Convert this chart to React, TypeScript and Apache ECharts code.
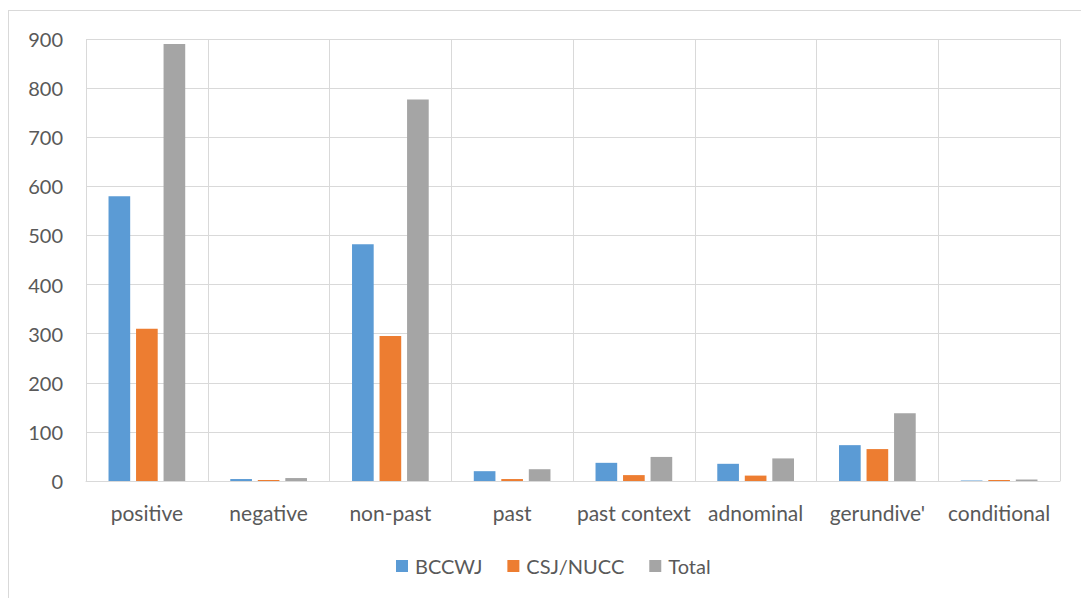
import React, { useEffect, useRef } from "react";
import * as echarts from "echarts";

const categories = [
  "positive",
  "negative",
  "non-past",
  "past",
  "past context",
  "adnominal",
  "gerundive'",
  "conditional",
];
const bccwj = [580, 4, 482, 20, 37, 35, 73, 1];
const csjNucc = [310, 2, 295, 4, 12, 11, 65, 2];
const total = [890, 6, 777, 24, 49, 46, 138, 3];

const FONT = "Lato, 'Open Sans', sans-serif";
const TEXT = "#595959";
const GRID = "#d9d9d9";

export default function App() {
  const ref = useRef<HTMLDivElement>(null);

  useEffect(() => {
    if (!ref.current) return;
    const chart = echarts.init(ref.current, undefined, { renderer: "svg" });
    const bar = (name: string, data: number[], color: string) => ({
      name,
      type: "bar",
      data,
      barGap: "27%",
      barCategoryGap: "37%",
      itemStyle: { color },
    });
    chart.setOption({
      animation: false,
      backgroundColor: "#ffffff",
      textStyle: { fontFamily: FONT },
      graphic: [
        {
          type: "line",
          shape: { x1: 8, y1: 10.5, x2: 1081, y2: 10.5 },
          style: { stroke: GRID, lineWidth: 1 },
        },
        {
          type: "line",
          shape: { x1: 8.5, y1: 10, x2: 8.5, y2: 598 },
          style: { stroke: GRID, lineWidth: 1 },
        },
      ],
      grid: { left: 86, top: 39, right: 21, bottom: 117, containLabel: false },
      legend: {
        top: 551,
        left: 391,
        itemWidth: 12,
        itemHeight: 12,
        itemGap: 25,
        icon: "rect",
        textStyle: { color: TEXT, fontSize: 20, fontFamily: FONT, padding: [0, 0, 0, 2] },
        data: ["BCCWJ", "CSJ/NUCC", "Total"],
      },
      xAxis: {
        type: "category",
        data: categories,
        axisLine: { lineStyle: { color: GRID, width: 1 } },
        axisTick: { show: false },
        splitLine: { show: true, lineStyle: { color: GRID, width: 1 } },
        axisLabel: { color: TEXT, fontSize: 21, margin: 21, fontFamily: FONT, interval: 0 },
      },
      yAxis: {
        type: "value",
        min: 0,
        max: 900,
        interval: 100,
        axisLine: { show: false },
        axisTick: { show: false },
        splitLine: { lineStyle: { color: GRID, width: 1 } },
        axisLabel: { color: TEXT, fontSize: 20, margin: 23, fontFamily: FONT },
      },
      series: [
        bar("BCCWJ", bccwj, "#5b9bd5"),
        bar("CSJ/NUCC", csjNucc, "#ed7d31"),
        bar("Total", total, "#a5a5a5"),
      ],
    });
    return () => chart.dispose();
  }, []);

  return (
    <div
      ref={ref}
      style={{ position: "fixed", left: 0, top: 0, width: 1081, height: 598 }}
    />
  );
}
